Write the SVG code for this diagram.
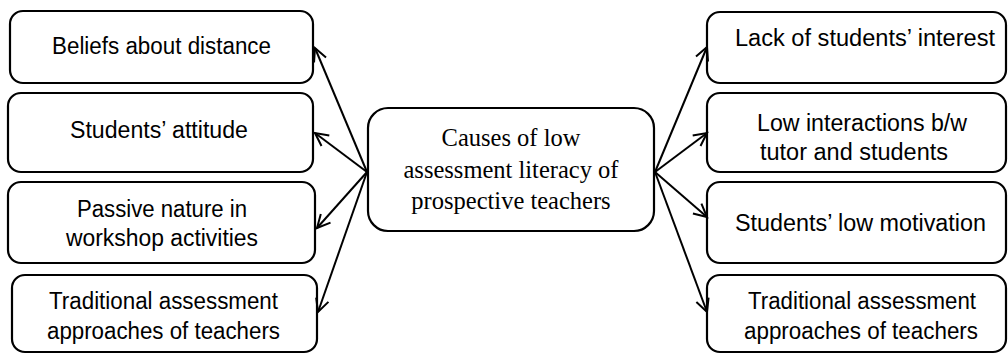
<svg xmlns="http://www.w3.org/2000/svg" width="1008" height="354" viewBox="0 0 1008 354">
<style>
.box{fill:#fff;stroke:#000;stroke-width:2.2}
.t{font-family:"Liberation Sans",Arial,sans-serif;font-size:23px;fill:#000;text-anchor:middle}
.c{font-family:"Liberation Serif","Times New Roman",serif;font-size:24.5px;fill:#000;text-anchor:middle}
.conn{stroke:#000;stroke-width:2;fill:none;marker-end:url(#arr)}
</style>
<defs>
<marker id="arr" markerUnits="userSpaceOnUse" markerWidth="20" markerHeight="20" viewBox="-16 -10 20 20" refX="0" refY="0" orient="auto">
<path d="M-13,-6.5 L0,0 L-13,6.5" fill="none" stroke="#000" stroke-width="2"/>
</marker>
</defs>
<rect width="1008" height="354" fill="#fff"/>
<g id="center">
<rect class="box" x="368" y="108" width="286" height="123" rx="20"/>
<text class="c" x="511" y="146">Causes of low</text>
<text class="c" x="511" y="178">assessment literacy of</text>
<text class="c" x="511" y="209">prospective teachers</text>
</g>
<g id="l1">
<rect class="box" x="10" y="11" width="303" height="72" rx="13"/>
<text class="t" x="161.5" y="54" textLength="219" lengthAdjust="spacingAndGlyphs">Beliefs about distance</text>
</g>
<g id="l2">
<rect class="box" x="8" y="93" width="305" height="79" rx="13"/>
<text class="t" x="159" y="138" textLength="178" lengthAdjust="spacingAndGlyphs">Students’ attitude</text>
</g>
<g id="l3">
<rect class="box" x="8" y="182" width="307" height="81" rx="13"/>
<text class="t" x="162" y="217" textLength="170" lengthAdjust="spacingAndGlyphs">Passive nature in</text>
<text class="t" x="162" y="246" textLength="192" lengthAdjust="spacingAndGlyphs">workshop activities</text>
</g>
<g id="l4">
<rect class="box" x="12" y="275" width="305" height="77" rx="13"/>
<text class="t" x="163.5" y="309" textLength="229" lengthAdjust="spacingAndGlyphs">Traditional assessment</text>
<text class="t" x="163.5" y="339" textLength="233" lengthAdjust="spacingAndGlyphs">approaches of teachers</text>
</g>
<g id="r1">
<rect class="box" x="707" y="12" width="299" height="71" rx="13"/>
<text class="t" x="865" y="46" textLength="260" lengthAdjust="spacingAndGlyphs">Lack of students’ interest</text>
</g>
<g id="r2">
<rect class="box" x="707" y="93" width="299" height="79" rx="13"/>
<text class="t" x="862" y="131" textLength="210" lengthAdjust="spacingAndGlyphs">Low interactions b/w</text>
<text class="t" x="854" y="160" textLength="188" lengthAdjust="spacingAndGlyphs">tutor and students</text>
</g>
<g id="r3">
<rect class="box" x="707" y="182" width="299" height="81" rx="13"/>
<text class="t" x="860.5" y="231" textLength="251" lengthAdjust="spacingAndGlyphs">Students’ low motivation</text>
</g>
<g id="r4">
<rect class="box" x="707" y="275" width="299" height="77" rx="13"/>
<text class="t" x="862" y="309" textLength="228" lengthAdjust="spacingAndGlyphs">Traditional assessment</text>
<text class="t" x="861" y="339" textLength="234" lengthAdjust="spacingAndGlyphs">approaches of teachers</text>
</g>
<g id="connectors">
<line class="conn" x1="367" y1="172" x2="315" y2="48"/>
<line class="conn" x1="367" y1="172" x2="315" y2="133"/>
<line class="conn" x1="367" y1="172" x2="317" y2="228"/>
<line class="conn" x1="367" y1="172" x2="318" y2="312"/>
<line class="conn" x1="655" y1="172" x2="707" y2="47"/>
<line class="conn" x1="655" y1="172" x2="707" y2="133"/>
<line class="conn" x1="655" y1="172" x2="707" y2="217"/>
<line class="conn" x1="655" y1="172" x2="707" y2="312"/>
</g>
</svg>
